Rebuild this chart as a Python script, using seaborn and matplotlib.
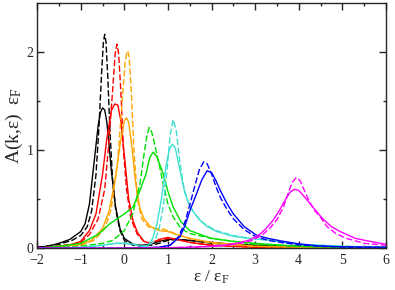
import matplotlib
matplotlib.use("Agg")
import matplotlib.pyplot as plt
import numpy as np
import pandas as pd
import seaborn as sns

# spectral function curves (x = eps/eps_F, y = A(k,eps) eps_F)
black_solid_x = [-2.0, -1.75, -1.5, -1.25, -1.0, -0.9, -0.8, -0.7, -0.6, -0.55, -0.5, -0.45, -0.4, -0.35, -0.3, -0.2, -0.1, 0.0, 0.2, 0.4, 0.6, 0.8, 1.0, 1.2, 1.5, 2.0, 2.5, 3.0, 4.0, 5.0, 6.0]
black_solid_y = [0.01, 0.02, 0.05, 0.09, 0.17, 0.25, 0.45, 0.85, 1.25, 1.38, 1.43, 1.41, 1.28, 1.05, 0.8, 0.42, 0.2, 0.1, 0.04, 0.03, 0.04, 0.07, 0.09, 0.09, 0.08, 0.06, 0.04, 0.03, 0.02, 0.01, 0.01]
black_dash_x = [-2.0, -1.5, -1.2, -1.0, -0.85, -0.75, -0.65, -0.58, -0.52, -0.48, -0.45, -0.42, -0.38, -0.33, -0.27, -0.2, -0.1, 0.0, 0.2, 0.4, 0.6, 0.8, 1.0, 1.2, 1.5, 2.0, 3.0, 4.0, 6.0]
black_dash_y = [0.01, 0.04, 0.08, 0.13, 0.22, 0.38, 0.75, 1.25, 1.8, 2.1, 2.18, 2.1, 1.75, 1.2, 0.7, 0.4, 0.18, 0.08, 0.03, 0.02, 0.03, 0.05, 0.08, 0.09, 0.08, 0.05, 0.03, 0.02, 0.01]

red_solid_x = [-2.0, -1.5, -1.2, -1.0, -0.8, -0.65, -0.5, -0.4, -0.3, -0.22, -0.15, -0.08, 0.0, 0.1, 0.2, 0.3, 0.45, 0.6, 0.8, 1.0, 1.2, 1.5, 2.0, 2.5, 3.0, 4.0, 6.0]
red_solid_y = [0.0, 0.02, 0.04, 0.07, 0.18, 0.35, 0.75, 1.12, 1.4, 1.47, 1.46, 1.3, 0.95, 0.5, 0.28, 0.16, 0.07, 0.05, 0.09, 0.11, 0.09, 0.06, 0.03, 0.02, 0.01, 0.01, 0.0]
red_dash_x = [-2.0, -1.5, -1.2, -1.0, -0.8, -0.6, -0.45, -0.35, -0.27, -0.21, -0.17, -0.13, -0.08, -0.02, 0.05, 0.15, 0.3, 0.45, 0.6, 0.8, 1.0, 1.2, 1.5, 2.0, 3.0, 6.0]
red_dash_y = [0.0, 0.02, 0.04, 0.06, 0.14, 0.3, 0.6, 1.1, 1.6, 1.98, 2.08, 1.98, 1.6, 1.0, 0.6, 0.3, 0.14, 0.07, 0.05, 0.08, 0.1, 0.09, 0.06, 0.03, 0.01, 0.0]

orange_solid_x = [-2.0, -1.5, -1.0, -0.75, -0.5, -0.35, -0.2, -0.1, 0.0, 0.05, 0.1, 0.17, 0.25, 0.35, 0.45, 0.6, 0.8, 1.0, 1.2, 1.5, 2.0, 2.5, 3.0, 4.0, 6.0]
orange_solid_y = [0.0, 0.01, 0.04, 0.08, 0.2, 0.38, 0.72, 1.05, 1.3, 1.33, 1.28, 1.05, 0.7, 0.42, 0.3, 0.22, 0.18, 0.17, 0.14, 0.1, 0.06, 0.04, 0.02, 0.01, 0.0]
orange_dash_x = [-2.0, -1.5, -1.0, -0.7, -0.45, -0.3, -0.15, -0.05, 0.02, 0.06, 0.08, 0.11, 0.16, 0.22, 0.3, 0.4, 0.55, 0.7, 0.85, 1.0, 1.2, 1.5, 2.0, 3.0, 4.0, 6.0]
orange_dash_y = [0.0, 0.01, 0.03, 0.08, 0.2, 0.4, 0.9, 1.5, 1.9, 2.0, 2.01, 1.95, 1.6, 1.0, 0.5, 0.3, 0.22, 0.2, 0.2, 0.18, 0.14, 0.1, 0.05, 0.02, 0.01, 0.0]

green_solid_x = [-2.0, -1.5, -1.0, -0.6, -0.33, 0.0, 0.2, 0.35, 0.5, 0.58, 0.66, 0.75, 0.89, 1.0, 1.12, 1.3, 1.5, 2.0, 2.5, 3.0, 4.0, 5.0, 6.0]
green_solid_y = [0.0, 0.02, 0.05, 0.14, 0.25, 0.35, 0.42, 0.58, 0.76, 0.92, 0.98, 0.93, 0.76, 0.58, 0.42, 0.27, 0.18, 0.1, 0.07, 0.05, 0.02, 0.01, 0.0]
green_dash_x = [-2.0, -1.0, -0.5, -0.26, 0.0, 0.2, 0.36, 0.45, 0.52, 0.57, 0.63, 0.7, 0.8, 0.89, 1.0, 1.12, 1.3, 1.5, 2.0, 2.5, 3.0, 4.0, 6.0]
green_dash_y = [0.0, 0.02, 0.05, 0.08, 0.18, 0.36, 0.66, 0.95, 1.15, 1.23, 1.18, 1.05, 0.85, 0.66, 0.45, 0.32, 0.2, 0.15, 0.1, 0.07, 0.04, 0.02, 0.0]

cyan_solid_x = [-2.0, -1.0, -0.5, -0.2, 0.0, 0.2, 0.4, 0.55, 0.65, 0.75, 0.85, 0.95, 1.03, 1.1, 1.17, 1.25, 1.39, 1.51, 1.7, 1.9, 2.12, 2.5, 2.88, 3.34, 4.0, 5.0, 6.0]
cyan_solid_y = [0.0, 0.01, 0.03, 0.05, 0.05, 0.04, 0.02, 0.03, 0.1, 0.25, 0.5, 0.82, 1.0, 1.06, 1.02, 0.85, 0.56, 0.42, 0.3, 0.22, 0.17, 0.12, 0.1, 0.08, 0.04, 0.02, 0.01]
cyan_dash_x = [-2.0, -1.0, -0.5, -0.2, 0.0, 0.2, 0.4, 0.55, 0.7, 0.8, 0.9, 0.98, 1.05, 1.12, 1.19, 1.27, 1.35, 1.45, 1.6, 1.8, 2.1, 2.5, 2.9, 3.4, 4.0, 5.0, 6.0]
cyan_dash_y = [0.0, 0.01, 0.03, 0.05, 0.05, 0.04, 0.02, 0.02, 0.08, 0.2, 0.45, 0.8, 1.15, 1.31, 1.2, 0.9, 0.65, 0.48, 0.36, 0.26, 0.18, 0.13, 0.1, 0.08, 0.04, 0.02, 0.01]

blue_solid_x = [-2.0, 0.0, 0.5, 0.8, 1.05, 1.28, 1.4, 1.51, 1.66, 1.78, 1.9, 2.0, 2.1, 2.2, 2.35, 2.5, 2.75, 3.04, 3.3, 3.65, 4.0, 4.42, 5.0, 6.0]
blue_solid_y = [0.0, 0.0, 0.005, 0.01, 0.03, 0.12, 0.24, 0.39, 0.56, 0.7, 0.79, 0.77, 0.69, 0.59, 0.46, 0.35, 0.22, 0.13, 0.1, 0.07, 0.045, 0.025, 0.015, 0.01]
blue_dash_x = [-2.0, 0.0, 0.5, 0.8, 1.05, 1.25, 1.4, 1.5, 1.62, 1.72, 1.82, 1.9, 2.0, 2.1, 2.2, 2.35, 2.5, 2.75, 3.0, 3.3, 3.65, 4.0, 4.5, 5.0, 6.0]
blue_dash_y = [0.0, 0.0, 0.005, 0.01, 0.03, 0.12, 0.28, 0.44, 0.64, 0.8, 0.88, 0.86, 0.76, 0.63, 0.52, 0.4, 0.3, 0.19, 0.12, 0.08, 0.055, 0.035, 0.02, 0.012, 0.005]

magenta_solid_x = [-2.0, 0.0, 1.0, 1.5, 2.0, 2.3, 2.58, 2.88, 3.1, 3.25, 3.42, 3.55, 3.7, 3.8, 3.9, 4.0, 4.1, 4.25, 4.38, 4.55, 4.75, 4.95, 5.3, 5.64, 6.0]
magenta_solid_y = [0.0, 0.0, 0.005, 0.01, 0.02, 0.03, 0.05, 0.085, 0.14, 0.2, 0.29, 0.38, 0.5, 0.57, 0.6, 0.59, 0.54, 0.46, 0.39, 0.3, 0.22, 0.17, 0.1, 0.07, 0.04]
magenta_dash_x = [-2.0, 0.0, 1.0, 1.5, 2.0, 2.3, 2.6, 2.9, 3.15, 3.35, 3.5, 3.65, 3.75, 3.85, 3.94, 4.03, 4.12, 4.25, 4.37, 4.49, 4.65, 4.85, 5.1, 5.5, 6.0]
magenta_dash_y = [0.0, 0.0, 0.005, 0.01, 0.02, 0.03, 0.045, 0.075, 0.13, 0.21, 0.29, 0.42, 0.55, 0.67, 0.72, 0.69, 0.6, 0.47, 0.38, 0.32, 0.22, 0.15, 0.1, 0.05, 0.03]

CURVES = [
    ("black", "solid", black_solid_x, black_solid_y),
    ("black", "dash", black_dash_x, black_dash_y),
    ("red", "solid", red_solid_x, red_solid_y),
    ("red", "dash", red_dash_x, red_dash_y),
    ("orange", "solid", orange_solid_x, orange_solid_y),
    ("orange", "dash", orange_dash_x, orange_dash_y),
    ("green", "solid", green_solid_x, green_solid_y),
    ("green", "dash", green_dash_x, green_dash_y),
    ("cyan", "solid", cyan_solid_x, cyan_solid_y),
    ("cyan", "dash", cyan_dash_x, cyan_dash_y),
    ("blue", "solid", blue_solid_x, blue_solid_y),
    ("blue", "dash", blue_dash_x, blue_dash_y),
    ("magenta", "solid", magenta_solid_x, magenta_solid_y),
    ("magenta", "dash", magenta_dash_x, magenta_dash_y),
]
PALETTE = {
    "black": "#000000",
    "red": "#ff0000",
    "orange": "#ffa500",
    "green": "#00e000",
    "cyan": "#40e0d0",
    "blue": "#0000ff",
    "magenta": "#ff00ff",
}

sns.set_style("ticks")
plt.rcParams.update({
    "font.family": ["Liberation Serif", "DejaVu Serif"],
    "mathtext.fontset": "custom",
    "mathtext.rm": "Liberation Serif",
    "mathtext.it": "Liberation Serif:italic",
    "axes.linewidth": 1.0,
})

rows = []
for name, style, xs, ys in CURVES:
    for x, y in zip(xs, ys):
        rows.append({"x": x, "y": y, "curve": f"{name}_{style}", "color": name, "style": style})
df = pd.DataFrame(rows)

fig = plt.figure(figsize=(3.95, 2.9), dpi=100)
ax = fig.add_axes([0.094, 0.144, 0.883, 0.846])

sns.lineplot(data=df, x="x", y="y", hue="color", style="style", units="curve",
             estimator=None, palette=PALETTE,
             dashes={"solid": "", "dash": (4.5, 1.8)},
             linewidth=1.0, legend=False, ax=ax)

ax.set_xlim(-2, 6)
ax.set_ylim(0, 2.5)
ax.set_xticks(np.arange(-2, 7, 1))
ax.set_xticks(np.arange(-2, 6.01, 0.5), minor=True)
ax.set_yticks([0, 1, 2])
ax.set_yticks([0.5, 1.5], minor=True)
ax.tick_params(which="both", direction="in", top=True, right=True, labelsize=10)
ax.tick_params(axis="x", pad=4.5)
ax.tick_params(axis="y", pad=2.5)
ax.tick_params(which="major", length=5, width=1.0)
ax.tick_params(which="minor", length=2.5, width=1.0)
ax.set_xlabel(r"ε / ε$_\mathrm{F}$", fontsize=12.5, labelpad=0.5)
ax.set_ylabel(r"A(k,ε)  ε$_\mathrm{F}$", fontsize=14, labelpad=1)

fig.savefig("out.png", dpi=100)
